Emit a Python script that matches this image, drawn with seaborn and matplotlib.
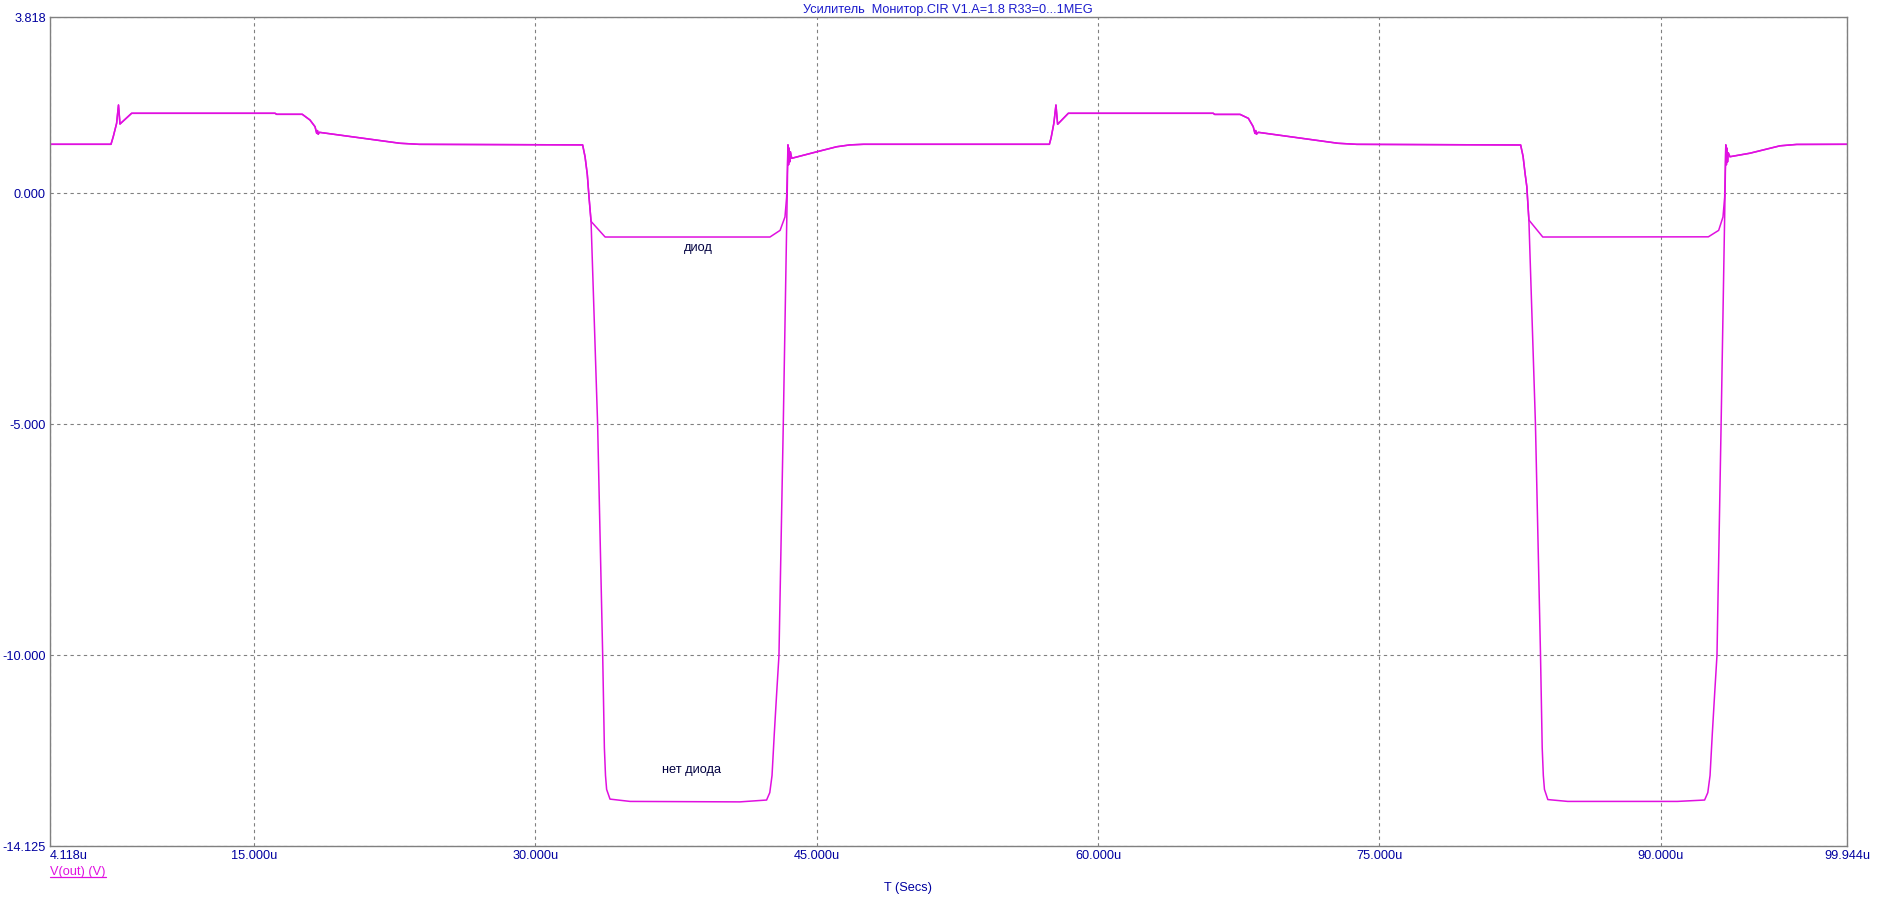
import pandas as pd
import matplotlib.pyplot as plt
import seaborn as sns
from matplotlib.lines import Line2D

# high level segment before the first negative pulse (shared by both runs)
t_high_a = [4.118, 7.37, 7.49, 7.67, 7.77, 7.85, 8.47, 16.12, 16.20, 17.57, 17.98,
            18.25, 18.34, 18.38, 18.42, 18.48, 22.78, 23.8, 32.52, 32.65, 32.77,
            32.86, 32.97]
v_high_a = [1.063, 1.063, 1.227, 1.517, 1.913, 1.502, 1.734, 1.734, 1.712, 1.712, 1.589,
            1.444, 1.30, 1.36, 1.28, 1.322, 1.085, 1.062, 1.050, 0.792, 0.407,
            -0.076, -0.606]

# first pulse, with diode
t_diode_1 = [33.72, 42.51, 43.05, 43.31, 43.40]
v_diode_1 = [-0.944, -0.944, -0.80, -0.51, -0.076]

# first pulse, without diode
t_nodiode_1 = [33.32, 33.59, 33.68, 33.74, 33.80, 33.98, 35.05, 40.9, 42.33, 42.50,
               42.62, 42.74, 42.87, 42.99, 43.22, 43.43]
v_nodiode_1 = [-5.0, -10.0, -12.0, -12.6, -12.9, -13.11, -13.16, -13.17, -13.13, -12.97,
               -12.6, -11.7, -10.8, -10.0, -5.0, 0.0]

# high level between the pulses
t_high_b = [43.47, 43.50, 43.53, 43.56, 43.60, 43.67, 45.00, 46.07, 46.78, 47.5,
            57.41, 57.50, 57.65, 57.76, 57.85, 58.42, 66.15, 66.22, 67.58, 68.02,
            68.28, 68.37, 68.41, 68.45, 68.55, 72.8, 73.8, 82.54, 82.67, 82.78,
            82.87, 82.98]
v_high_b = [1.05, 0.62, 0.98, 0.68, 0.90, 0.76, 0.90, 1.01, 1.05, 1.063,
            1.063, 1.20, 1.52, 1.913, 1.496, 1.734, 1.734, 1.71, 1.71, 1.625,
            1.444, 1.30, 1.36, 1.28, 1.322, 1.085, 1.062, 1.048, 0.80, 0.42,
            0.145, -0.576]

# second pulse, with diode
t_diode_2 = [83.72, 92.55, 93.10, 93.33, 93.42]
v_diode_2 = [-0.944, -0.940, -0.80, -0.51, -0.08]

# second pulse, without diode
t_nodiode_2 = [83.33, 83.60, 83.69, 83.75, 83.81, 83.99, 85.05, 90.9, 92.35, 92.52,
               92.64, 92.76, 92.89, 93.01, 93.23, 93.44]
v_nodiode_2 = [-5.0, -10.0, -12.0, -12.6, -12.9, -13.12, -13.16, -13.16, -13.13, -12.97,
               -12.6, -11.7, -10.8, -10.0, -5.0, 0.0]

# final high level
t_high_c = [93.48, 93.51, 93.54, 93.57, 93.61, 93.70, 94.77, 96.37, 97.26, 99.944]
v_high_c = [1.05, 0.62, 0.98, 0.68, 0.88, 0.794, 0.87, 1.03, 1.06, 1.063]

x_ticks = [4.118, 15, 30, 45, 60, 75, 90, 99.944]
x_labels = ["4.118u", "15.000u", "30.000u", "45.000u", "60.000u", "75.000u", "90.000u", "99.944u"]
y_ticks = [3.818, 0.0, -5.0, -10.0, -14.125]
y_labels = ["3.818", "0.000", "-5.000", "-10.000", "-14.125"]

t_diode = t_high_a + t_diode_1 + t_high_b + t_diode_2 + t_high_c
v_diode = v_high_a + v_diode_1 + v_high_b + v_diode_2 + v_high_c
t_nodiode = t_high_a + t_nodiode_1 + t_high_b + t_nodiode_2 + t_high_c
v_nodiode = v_high_a + v_nodiode_1 + v_high_b + v_nodiode_2 + v_high_c

df = pd.concat([
    pd.DataFrame({"t": t_diode, "v": v_diode, "run": "диод"}),
    pd.DataFrame({"t": t_nodiode, "v": v_nodiode, "run": "нет диода"}),
], ignore_index=True)

sns.set_style("white")
plt.rcParams["font.family"] = ["Liberation Sans", "DejaVu Sans"]

blue = "#0000a0"
magenta = "#e010e0"
gray = "#808080"
fs = 9.2

fig = plt.figure(figsize=(18.82, 9.01), dpi=100)
ax = fig.add_axes([0.02657, 0.06104, 0.95484, 0.92009])

sns.lineplot(data=df, x="t", y="v", hue="run", units="run", estimator=None, sort=False,
             palette={"диод": magenta, "нет диода": magenta}, linewidth=1.1,
             legend=False, ax=ax)

ax.set_xlim(4.118, 99.944)
ax.set_ylim(-14.125, 3.818)
ax.set_xticks(x_ticks)
ax.set_xticklabels(x_labels)
ax.set_yticks(y_ticks)
ax.set_yticklabels(y_labels)
ax.tick_params(length=0, labelsize=fs, labelcolor=blue)
ax.tick_params(axis="x", pad=3)
ax.tick_params(axis="y", pad=3)
ax.get_xticklabels()[0].set_ha("left")
ax.set_xlabel("")
ax.set_ylabel("")

ax.grid(True, color=gray, linestyle=(0, (3, 3)), linewidth=0.8)
for s in ax.spines.values():
    s.set_color(gray)
    s.set_linewidth(1.0)

ax.text(38.67, -1.18, "диод", ha="center", va="center", fontsize=fs, color="#000040")
ax.text(38.3, -12.48, "нет диода", ha="center", va="center", fontsize=fs, color="#000040")

fig.text(948 / 1882, 1 - 10.5 / 901, "Усилитель  Монитор.CIR V1.A=1.8 R33=0...1MEG",
         ha="center", va="center", fontsize=fs, color="#1a1acc")
fig.text(908 / 1882, 1 - 888 / 901, "T (Secs)", ha="center", va="center",
         fontsize=fs, color=blue)
lbl = fig.text(50 / 1882, 1 - 871.5 / 901, "V(out) (V)", ha="left", va="center",
               fontsize=fs, color=magenta)

fig.canvas.draw()
bb = lbl.get_window_extent(fig.canvas.get_renderer())
W, H = fig.bbox.width, fig.bbox.height
fig.add_artist(Line2D([bb.x0 / W, bb.x1 / W], [(bb.y0 + 0.5) / H, (bb.y0 + 0.5) / H],
                      color=magenta, linewidth=0.9))

plt.savefig("out.png", dpi=100)
